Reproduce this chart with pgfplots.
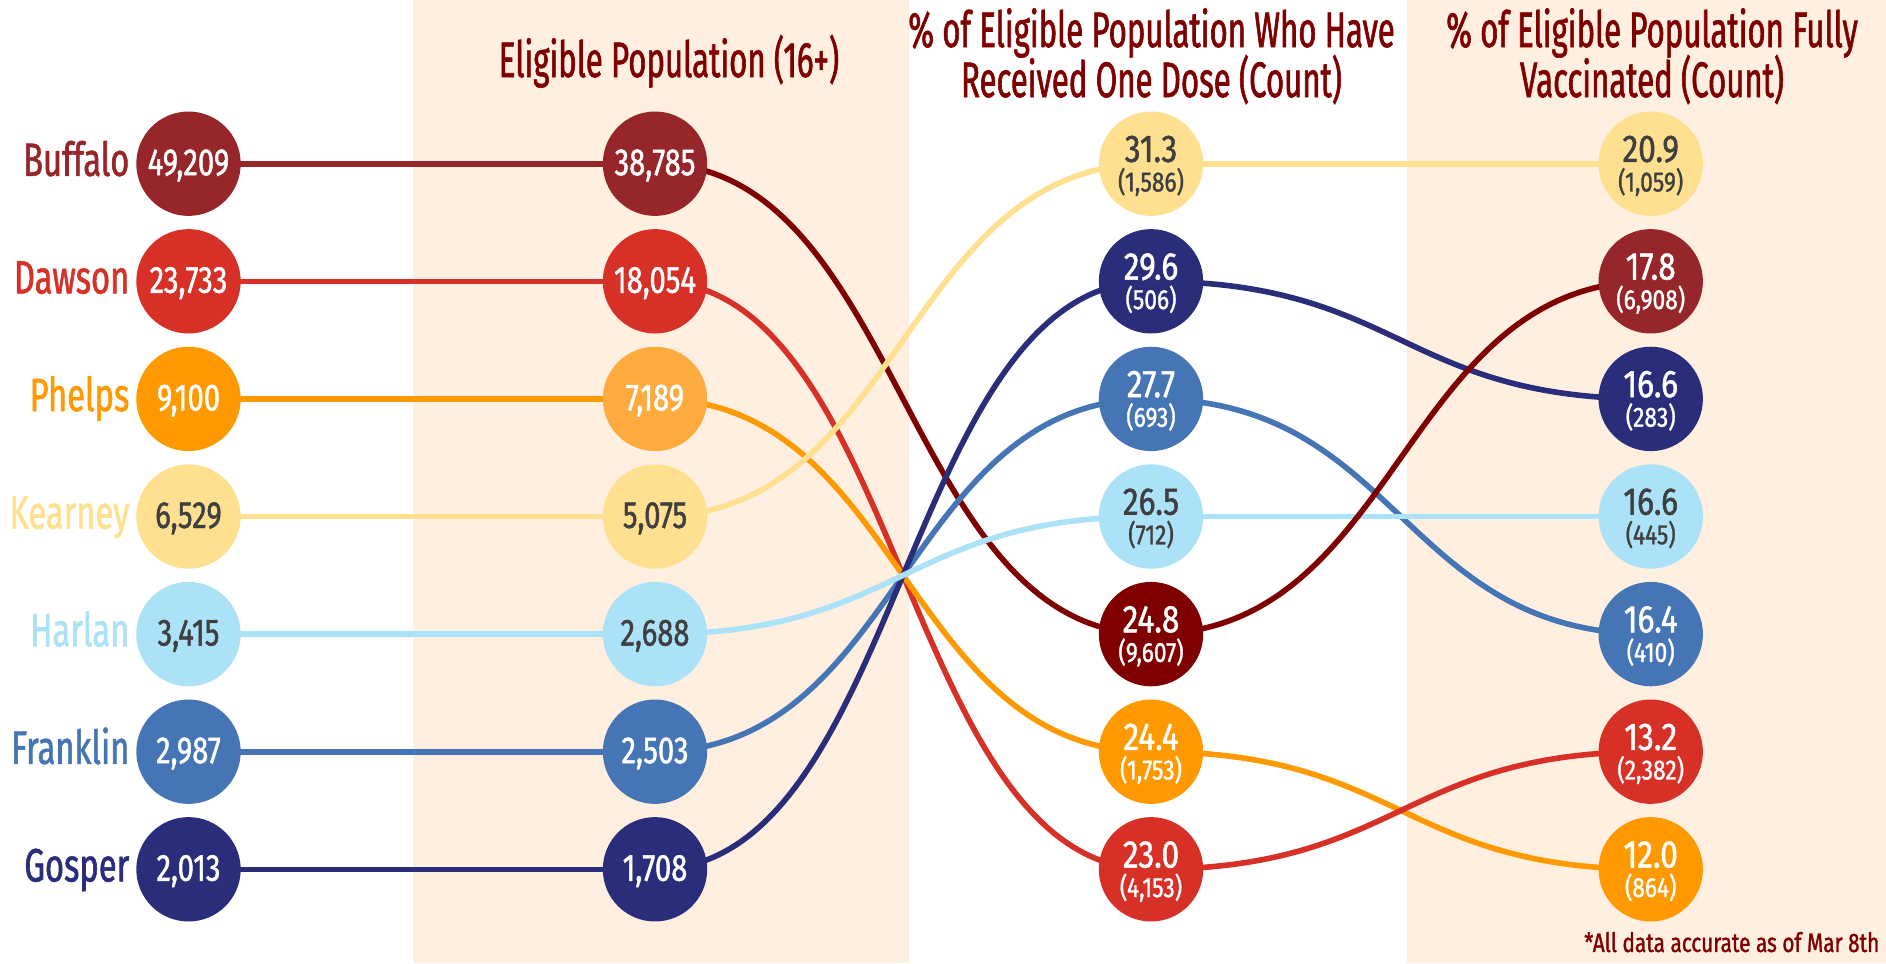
\documentclass[border=0pt]{standalone}
\usepackage{pgfplots}
\pgfplotsset{compat=1.18}
\usepackage{fontspec}
\setmainfont{Fira Sans}[FakeStretch=0.70, FakeBold=1.2]
\newfontfamily\numfont{Fira Sans}[FakeStretch=0.77, FakeBold=1.2]
\newfontfamily\bignumfont{Fira Sans}[FakeStretch=0.82, FakeBold=1.2]
\newfontfamily\titlefont{Fira Sans}[FakeStretch=0.625, FakeBold=1.2]
\newfontfamily\notefont{Fira Sans}[FakeStretch=0.78, FakeBold=1.2]

\definecolor{cbuf}{HTML}{962629}
\definecolor{cbufd}{HTML}{7F0000}
\definecolor{cdaw}{HTML}{D73027}
\definecolor{cphe}{HTML}{FF9900}
\definecolor{cphel}{HTML}{FDAA3E}
\definecolor{ckea}{HTML}{FEE090}
\definecolor{charl}{HTML}{ABE2F7}
\definecolor{cfra}{HTML}{4575B4}
\definecolor{cgos}{HTML}{2A2D7A}
\definecolor{band}{HTML}{FEEFE0}
\definecolor{ttl}{HTML}{7F0000}
\definecolor{txtd}{HTML}{3F3F3F}

\tikzset{lk/.style={line width=0.56mm, line cap=butt},
  ttlA/.style={text=ttl, anchor=base, inner sep=0pt, text depth=0pt,
    font=\titlefont\fontsize{14.2}{16}\selectfont},
  ttlB/.style={text=ttl, anchor=base, inner sep=0pt, text height=3.2mm, text depth=0pt,
    font=\titlefont\fontsize{14.2}{16}\selectfont}}

% county name: rank, colour, name
\newcommand\cname[3]{%
  \addplot[draw=none, mark=none, nodes near coords={#3},
    every node near coord/.append style={anchor=east, text=#2, inner sep=0pt,
      text height=3.23mm, text depth=0pt, yshift=0.4mm,
      font=\fontsize{13.3}{15}\selectfont}]
    coordinates {(130,#1)};}
% single-line bubble: x, rank, fill, text colour, label
\newcommand\bubA[5]{%
  \addplot[only marks, mark=*, mark size=14.65pt, color=#3, nodes near coords={#5},
    every node near coord/.append style={anchor=center, text=#4, inner sep=0pt,
      text height=2.6mm, text depth=0pt, yshift=0.15mm,
      font=\numfont\fontsize{10.8}{12}\selectfont}]
    coordinates {(#1,#2)};}
% two-line bubble: x, rank, fill, text colour, percent, count
\newcommand\bubB[6]{%
  \addplot[only marks, mark=*, mark size=14.65pt, color=#3, nodes near coords={#5},
    every node near coord/.append style={anchor=center, text=#4, inner sep=0pt,
      text height=2.65mm, text depth=0pt, yshift=1.5mm,
      font=\bignumfont\fontsize{11}{12}\selectfont}]
    coordinates {(#1,#2)};
  \addplot[draw=none, mark=none, nodes near coords={(#6)},
    every node near coord/.append style={anchor=center, text=#4, inner sep=0pt,
      text height=1.85mm, text depth=0pt, yshift=-1.85mm,
      font=\bignumfont\fontsize{7.9}{9}\selectfont}]
    coordinates {(#1,#2)};}

\begin{document}
\begin{tikzpicture}
\begin{axis}[
  scale only axis, width=188.6mm, height=96.3mm,
  xmin=0, xmax=1886, ymin=-0.392, ymax=7.797, y dir=reverse,
  hide axis, clip=false,
]
% background and bands
\fill[white] (axis cs:0,-0.392) rectangle (axis cs:1886,7.797);
\fill[band] (axis cs:412.5,-0.392) rectangle (axis cs:908.5,7.797);
\fill[band] (axis cs:1407,-0.392) rectangle (axis cs:1886,7.797);

% straight links: total -> eligible
\addplot[lk, cbuf, mark=none] coordinates {(188.5,1) (655,1)};
\addplot[lk, cdaw, mark=none] coordinates {(188.5,2) (655,2)};
\addplot[lk, cphe, mark=none] coordinates {(188.5,3) (655,3)};
\addplot[lk, ckea, mark=none] coordinates {(188.5,4) (655,4)};
\addplot[lk, charl, mark=none] coordinates {(188.5,5) (655,5)};
\addplot[lk, cfra, mark=none] coordinates {(188.5,6) (655,6)};
\addplot[lk, cgos, mark=none] coordinates {(188.5,7) (655,7)};

% curved links: eligible -> one dose
\draw[lk, cbufd] (axis cs:655,1) .. controls (axis cs:903,1) and (axis cs:903,5) .. (axis cs:1151,5);
\draw[lk, cdaw]  (axis cs:655,2) .. controls (axis cs:903,2) and (axis cs:903,7) .. (axis cs:1151,7);
\draw[lk, cphe]  (axis cs:655,3) .. controls (axis cs:903,3) and (axis cs:903,6) .. (axis cs:1151,6);
\draw[lk, ckea]  (axis cs:655,4) .. controls (axis cs:903,4) and (axis cs:903,1) .. (axis cs:1151,1);
\draw[lk, cfra]  (axis cs:655,6) .. controls (axis cs:903,6) and (axis cs:903,3) .. (axis cs:1151,3);
\draw[lk, cgos]  (axis cs:655,7) .. controls (axis cs:903,7) and (axis cs:903,2) .. (axis cs:1151,2);
\draw[lk, charl] (axis cs:655,5) .. controls (axis cs:903,5) and (axis cs:903,4) .. (axis cs:1151,4);

% curved links: one dose -> fully vaccinated
\draw[lk, ckea]  (axis cs:1151,1) .. controls (axis cs:1400.85,1) and (axis cs:1400.85,1) .. (axis cs:1650.7,1);
\draw[lk, cgos]  (axis cs:1151,2) .. controls (axis cs:1400.85,2) and (axis cs:1400.85,3) .. (axis cs:1650.7,3);
\draw[lk, cfra]  (axis cs:1151,3) .. controls (axis cs:1400.85,3) and (axis cs:1400.85,5) .. (axis cs:1650.7,5);
\draw[lk, charl] (axis cs:1151,4) .. controls (axis cs:1400.85,4) and (axis cs:1400.85,4) .. (axis cs:1650.7,4);
\draw[lk, cbufd] (axis cs:1151,5) .. controls (axis cs:1400.85,5) and (axis cs:1400.85,2) .. (axis cs:1650.7,2);
\draw[lk, cphe]  (axis cs:1151,6) .. controls (axis cs:1400.85,6) and (axis cs:1400.85,7) .. (axis cs:1650.7,7);
\draw[lk, cdaw]  (axis cs:1151,7) .. controls (axis cs:1400.85,7) and (axis cs:1400.85,6) .. (axis cs:1650.7,6);

% county names
\cname{1}{cbuf}{Buffalo}
\cname{2}{cdaw}{Dawson}
\cname{3}{cphe}{Phelps}
\cname{4}{ckea}{Kearney}
\cname{5}{charl}{Harlan}
\cname{6}{cfra}{Franklin}
\cname{7}{cgos}{Gosper}

% total population
\bubA{188.5}{1}{cbuf}{white}{49,209}
\bubA{188.5}{2}{cdaw}{white}{23,733}
\bubA{188.5}{3}{cphe}{white}{9,100}
\bubA{188.5}{4}{ckea}{txtd}{6,529}
\bubA{188.5}{5}{charl}{txtd}{3,415}
\bubA{188.5}{6}{cfra}{white}{2,987}
\bubA{188.5}{7}{cgos}{white}{2,013}

% eligible population (16+)
\bubA{655}{1}{cbuf}{white}{38,785}
\bubA{655}{2}{cdaw}{white}{18,054}
\bubA{655}{3}{cphel}{white}{7,189}
\bubA{655}{4}{ckea}{txtd}{5,075}
\bubA{655}{5}{charl}{txtd}{2,688}
\bubA{655}{6}{cfra}{white}{2,503}
\bubA{655}{7}{cgos}{white}{1,708}

% % received one dose (count)
\bubB{1151}{1}{ckea}{txtd}{31.3}{1,586}
\bubB{1151}{2}{cgos}{white}{29.6}{506}
\bubB{1151}{3}{cfra}{white}{27.7}{693}
\bubB{1151}{4}{charl}{txtd}{26.5}{712}
\bubB{1151}{5}{cbufd}{white}{24.8}{9,607}
\bubB{1151}{6}{cphe}{white}{24.4}{1,753}
\bubB{1151}{7}{cdaw}{white}{23.0}{4,153}

% % fully vaccinated (count)
\bubB{1650.7}{1}{ckea}{txtd}{20.9}{1,059}
\bubB{1650.7}{2}{cbuf}{white}{17.8}{6,908}
\bubB{1650.7}{3}{cgos}{white}{16.6}{283}
\bubB{1650.7}{4}{charl}{txtd}{16.6}{445}
\bubB{1650.7}{5}{cfra}{white}{16.4}{410}
\bubB{1650.7}{6}{cdaw}{white}{13.2}{2,382}
\bubB{1650.7}{7}{cphe}{white}{12.0}{864}

% titles
\node[ttlA] at (axis cs:669,0.263) {Eligible Population (16+)};
\node[ttlA] at (axis cs:1151.5,0.008) {\% of Eligible Population Who Have};
\node[ttlB] at (axis cs:1151.5,0.433) {Received One Dose (Count)};
\node[ttlA] at (axis cs:1652,0.008) {\% of Eligible Population Fully};
\node[ttlB] at (axis cs:1652,0.433) {Vaccinated (Count)};
\node[text=ttl, anchor=base east, inner sep=0pt, font=\notefont\fontsize{7.6}{9}\selectfont] at (axis cs:1880,7.703) {*All data accurate as of Mar 8th};
\end{axis}
\pgfresetboundingbox
\useasboundingbox (current axis.south west) rectangle (current axis.north east);
\end{tikzpicture}
\end{document}
